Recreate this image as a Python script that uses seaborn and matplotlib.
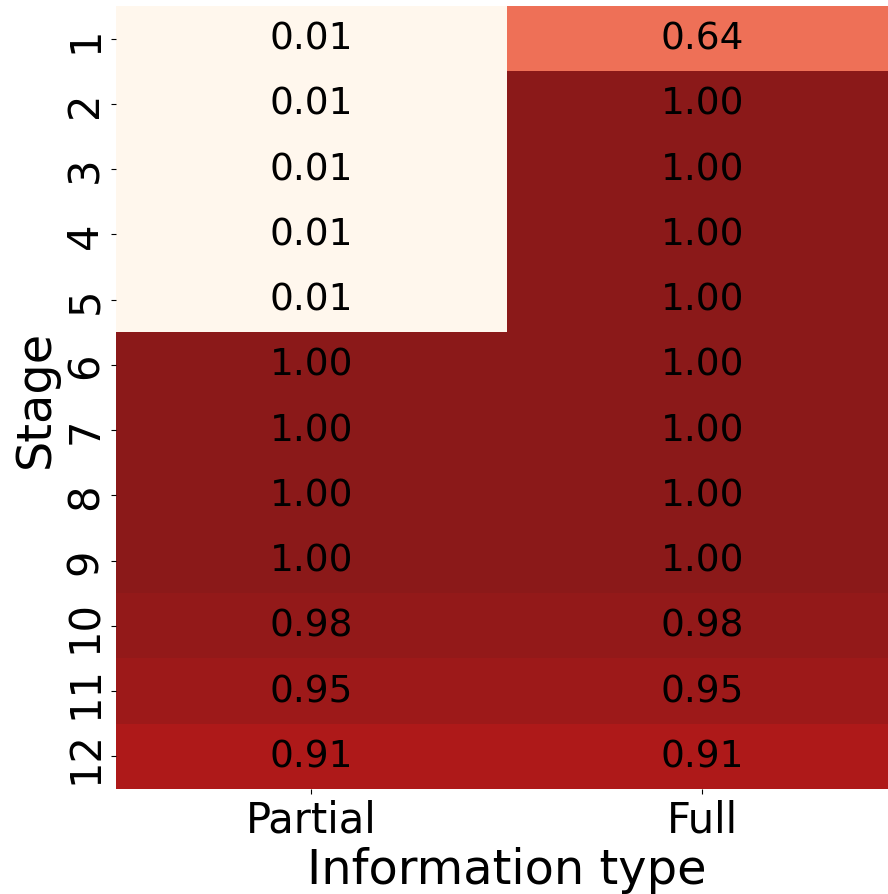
import numpy as np
import pandas as pd
import matplotlib
matplotlib.use('Agg')
import matplotlib.pyplot as plt
import seaborn as sns

stages = [1, 2, 3, 4, 5, 6, 7, 8, 9, 10, 11, 12]
info_types = ['Partial', 'Full']
partial = [0.01, 0.01, 0.01, 0.01, 0.01, 1.00, 1.00, 1.00, 1.00, 0.98, 0.95, 0.91]
full = [0.64, 1.00, 1.00, 1.00, 1.00, 1.00, 1.00, 1.00, 1.00, 0.98, 0.95, 0.91]

df = pd.DataFrame({'Partial': partial, 'Full': full}, index=stages)
df.index.name = 'Stage'
df.columns.name = 'Information type'

fig = plt.figure(figsize=(8.88, 8.95), dpi=100)
# right edge of the grid runs slightly past the figure, as in the reference crop
ax = fig.add_axes([0.1306, 0.1173, 0.8806, 0.875])
sns.heatmap(df, ax=ax, cmap='OrRd', alpha=0.9, annot=True, fmt='.2f',
            cbar=False, annot_kws={'size': 27, 'color': 'black'})
ax.set_xlabel('Information type', fontsize=34.5)
ax.set_ylabel('Stage', fontsize=34.5)
ax.tick_params(axis='both', labelsize=30)
plt.setp(ax.get_yticklabels(), rotation=90, va='center')
fig.savefig('out.png', dpi=100)
